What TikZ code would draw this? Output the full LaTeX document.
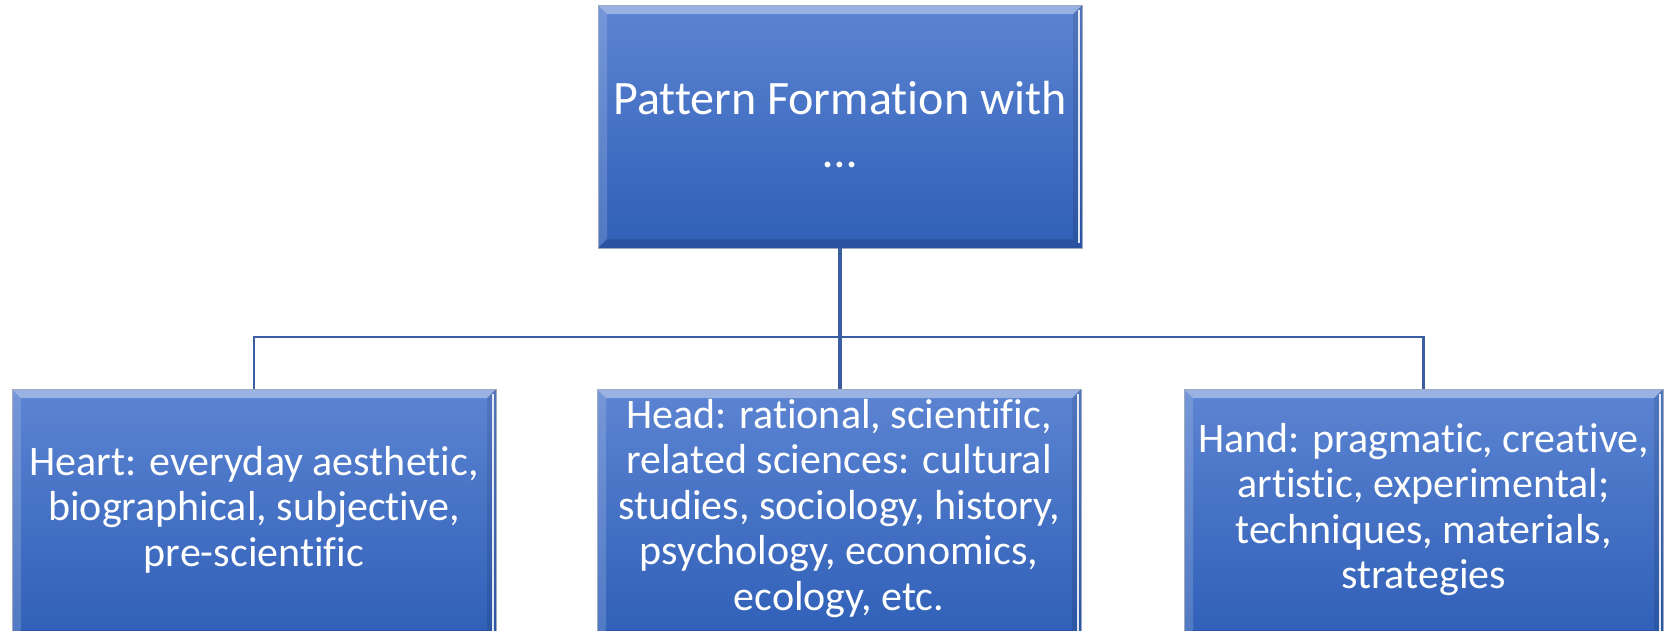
\documentclass[tikz,border=0pt]{standalone}
\usepackage{fontspec}
\setmainfont{Carlito}[Ligatures=NoCommon]
\begin{document}
\definecolor{boxtop}{RGB}{92,132,210}
\definecolor{boxbot}{RGB}{47,95,183}
\definecolor{conncol}{RGB}{60,94,160}
\begin{tikzpicture}[x=1pt,y=-1pt,
  box/.style={rectangle, inner sep=0pt, draw={rgb,255:red,160;green,170;blue,190}, line width=0.8pt,
    top color=boxtop, bottom color=boxbot,
    path picture={
      \fill[white,opacity=0.38] (path picture bounding box.north west) -- (path picture bounding box.north east)
        -- ([xshift=-9pt,yshift=-9pt]path picture bounding box.north east) -- ([xshift=9pt,yshift=-9pt]path picture bounding box.north west) -- cycle;
      \fill[white,opacity=0.16] (path picture bounding box.north west) -- ([xshift=9pt,yshift=-9pt]path picture bounding box.north west)
        -- ([xshift=9pt,yshift=9pt]path picture bounding box.south west) -- (path picture bounding box.south west) -- cycle;
      \fill[black,opacity=0.10] (path picture bounding box.north east) -- ([xshift=-9pt,yshift=-9pt]path picture bounding box.north east)
        -- ([xshift=-9pt,yshift=9pt]path picture bounding box.south east) -- (path picture bounding box.south east) -- cycle;
      \draw[white,opacity=0.85,line width=1.6pt] ([xshift=-3pt,yshift=-5pt]path picture bounding box.north east) -- ([xshift=-3pt,yshift=5pt]path picture bounding box.south east);
      \fill[black,opacity=0.12] (path picture bounding box.south west) -- ([xshift=9pt,yshift=9pt]path picture bounding box.south west)
        -- ([xshift=-9pt,yshift=9pt]path picture bounding box.south east) -- (path picture bounding box.south east) -- cycle;
    }},
  boxtext/.style={text=white, align=center, inner sep=0pt, anchor=base},
  bigtext/.style={font=\fontsize{48pt}{53pt}\selectfont},
  smalltext/.style={font=\fontsize{42pt}{45.5pt}\selectfont},
  conn/.style={draw=conncol, line width=2.6pt},
  connthick/.style={draw=conncol, line width=3.6pt}]
\useasboundingbox (0,0) rectangle (1669,630);
\begin{scope}
\clip (0,0) rectangle (1669,630);
% boxes
\node[box, minimum width=484pt, minimum height=243pt] (top) at (840,126.5) {};
\node[box, minimum width=484pt, minimum height=250pt] (left) at (254,514) {};
\node[box, minimum width=484pt, minimum height=250pt] (mid) at (839,514) {};
\node[box, minimum width=479pt, minimum height=250pt] (right) at (1423.5,514) {};
% labels (positioned by the baseline of their last line)
\node[boxtext, bigtext] (toptext) at (840,167) {Pattern Formation with\\…};
\node[boxtext, smalltext] (lefttext) at (254,566) {Heart: everyday aesthetic,\\biographical, subjective,\\pre-scientific};
\node[boxtext, smalltext] (midtext) at (839,610) {Head: rational, scientific,\\related sciences: cultural\\studies, sociology, history,\\psychology, economics,\\ecology, etc.};
\node[boxtext, smalltext] (righttext) at (1423.5,588.5) {Hand: pragmatic, creative,\\artistic, experimental;\\techniques, materials,\\strategies};
\end{scope}
% connectors
\coordinate (bus) at (840,337);
\draw[conn] (left.north) -- (left.north |- bus) -- (right.north |- bus) -- (right.north);
\draw[connthick] (top.south) -- (top.south |- mid.north);
\end{tikzpicture}
\end{document}
